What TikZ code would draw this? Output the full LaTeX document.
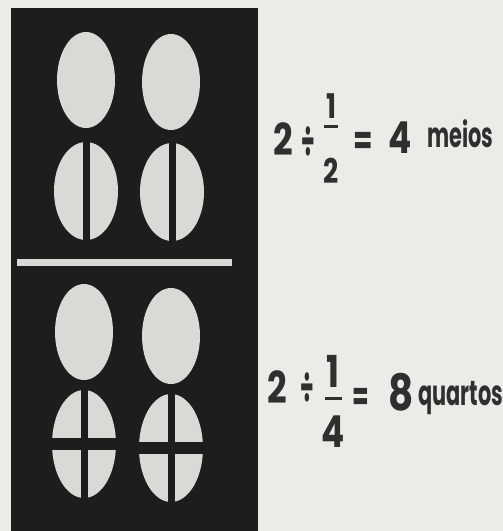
\documentclass[tikz,border=0pt]{standalone}
\usepackage{graphicx}
\usepackage{fontspec}
\setmainfont{Poppins}
\usetikzlibrary{positioning}
\definecolor{paper}{HTML}{ECEBE7}
\definecolor{board}{HTML}{1D1D1D}
\definecolor{disc}{HTML}{D9D9D5}
\definecolor{ink}{HTML}{2F2F2F}
\newcommand{\squeeze}[1]{\scalebox{0.78}[1]{#1}}
\newcommand{\squeezeword}[1]{\scalebox{0.72}[1.2]{#1}}

\begin{document}
\begin{tikzpicture}[x=1pt, y=-1pt,
    digit/.style={font=\fontsize{44}{48}\selectfont\bfseries, text=ink, inner sep=0pt, anchor=base},
    sign/.style={font=\fontsize{40}{44}\selectfont\bfseries, text=ink, inner sep=0pt},
    smalldigit/.style={font=\fontsize{34}{38}\selectfont\bfseries, text=ink, inner sep=0pt, anchor=base},
    word/.style={font=\fontsize{29}{32}\selectfont\bfseries, text=ink, inner sep=0pt, anchor=base west},
    bar/.style={fill=ink},
    whole/.style={fill=disc},
    cut/.style={fill=board}
]
\fill[paper] (0,0) rectangle (503,531);
\useasboundingbox (0,0) rectangle (503,531);
\fill[board] (11,8) rectangle (258,531);
% two wholes, then the same two cut in halves
\foreach \cx/\cy in {86/80, 171/82}
    \fill[whole] (\cx,\cy) ellipse [x radius=29pt, y radius=48pt];
\foreach \cx/\cy in {86/191, 172/192} {
    \fill[whole] (\cx,\cy) ellipse [x radius=32pt, y radius=49pt];
    \fill[cut] (\cx-3.5,\cy-52) rectangle (\cx+3.5,\cy+52);
}
\fill[whole] (17,259) rectangle (232,266);
% two wholes, then the same two cut in quarters
\foreach \cx/\cy in {84/332, 171/336}
    \fill[whole] (\cx,\cy) ellipse [x radius=29pt, y radius=48pt];
\foreach \cx/\cy in {84/444, 171/448} {
    \fill[whole] (\cx,\cy) ellipse [x radius=32pt, y radius=54pt];
    \fill[cut] (\cx-3.5,\cy-57) rectangle (\cx+3.5,\cy+57);
    \fill[cut] (\cx-35,\cy-6) rectangle (\cx+35,\cy+6);
}
% first sum
\node[digit] (twoA) at (283,155) {\squeeze{2}};
\node[sign] (divA) at (308,142) {\scalebox{0.55}[1.15]{÷}};
\node[smalldigit] (numA) at (331,118) {\squeeze{1}};
\fill[bar] (324,125) rectangle (338,128);
\node[smalldigit] (denA) at (331,183) {\squeeze{2}};
\node[sign] (eqA) at (363,143) {\scalebox{0.7}[1]{=}};
\node[digit] (fourA) at (400,153) {\squeeze{4}};
\node[word] (wordA) at (427,147) {\squeezeword{meios}};
% second sum
\node[digit] (twoB) at (277,403) {\squeeze{2}};
\node[sign] (divB) at (307,388) {\scalebox{0.55}[1.15]{÷}};
\node[smalldigit, font=\fontsize{44}{48}\selectfont\bfseries] (numB) at (333,387) {\squeeze{1}};
\fill[bar] (325,397) rectangle (342,400);
\node[smalldigit, font=\fontsize{44}{48}\selectfont\bfseries] (denB) at (333,447) {\squeeze{4}};
\node[sign] (eqB) at (361,399) {\scalebox{0.6}[1]{=}};
\node[digit, font=\fontsize{50}{54}\selectfont\bfseries] (eightB) at (401,410) {\squeeze{8}};
\node[word] (wordB) at (418,405) {\squeezeword{quartos}};
\end{tikzpicture}
\end{document}
